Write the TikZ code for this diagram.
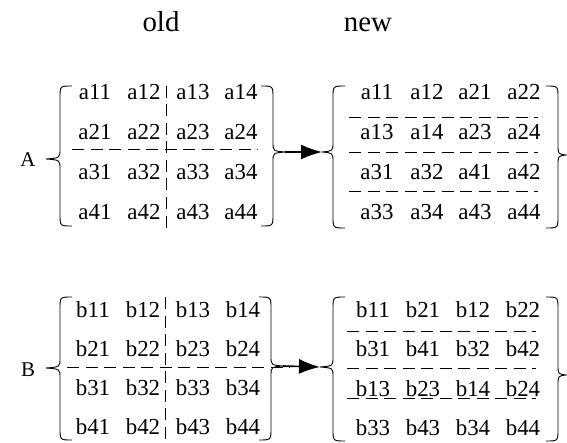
\documentclass[tikz,border=0pt]{standalone}
\usepackage{fontspec}
\setmainfont{Liberation Serif}
\usetikzlibrary{arrows.meta}

% curly delimiters: #1 x of the stem, #2/#3 tip, #4 top y, #5 bottom y
\newcommand{\leftbr}[5]{%
  \draw[brace] (#1+12,#4) .. controls (#1,#4) .. (#1,#4+12) -- (#1,#3-10)
    .. controls (#1,#3-1) .. (#2,#3) .. controls (#1,#3+1) .. (#1,#3+10)
    -- (#1,#5-12) .. controls (#1,#5) .. (#1+12,#5);}
\newcommand{\rightbr}[5]{%
  \draw[brace] (#1-12,#4) .. controls (#1,#4) .. (#1,#4+12) -- (#1,#3-10)
    .. controls (#1,#3-1) .. (#2,#3) .. controls (#1,#3+1) .. (#1,#3+10)
    -- (#1,#5-12) .. controls (#1,#5) .. (#1-12,#5);}

\tikzset{
  ent/.style={font=\fontsize{23}{23}\selectfont, anchor=base, inner sep=0pt},
  head/.style={font=\fontsize{29}{29}\selectfont, anchor=base, inner sep=0pt},
  tag/.style={font=\fontsize{21}{21}\selectfont, anchor=base, inner sep=0pt},
  brace/.style={line width=0.9bp},
  cut/.style={line width=1bp, dash pattern=on 12bp off 6.5bp},
  arr/.style={line width=1.6bp, -{Latex[length=21bp,width=15bp]}},
}

\begin{document}
\begin{tikzpicture}[x=1bp,y=-1bp]
\useasboundingbox (0,0) rectangle (567,443);

% column titles
\node[head] (old) at (161,32) {old};
\node[head] (new) at (368,32) {new};

% row labels
\node[tag] (labA) at (28,167) {A};
\node[tag] (labB) at (28,376) {B};

% ---------- matrix A, original layout ----------
\foreach \r/\y in {1/100,2/140,3/180,4/220}
  \foreach \c/\x in {1/95,2/144,3/193,4/241}
    \node[ent] (Ao\r\c) at (\x,\y) {a\r\c};
\leftbr{60}{46}{159}{86}{226}
\rightbr{273}{285}{152}{86}{226}
\coordinate (AoTip) at (285,152);
\draw[cut] (72,150) -- (258,150);
\draw[cut] (166,86) -- (166,231);

% ---------- matrix A, new layout ----------
\foreach \r/\y/\la/\lb/\lc/\ld in {1/100/11/12/21/22,2/140/13/14/23/24,
                                   3/180/31/32/41/42,4/220/33/34/43/44}{
  \node[ent] (An\r1) at (377,\y) {a\la};
  \node[ent] (An\r2) at (427,\y) {a\lb};
  \node[ent] (An\r3) at (475,\y) {a\lc};
  \node[ent] (An\r4) at (524,\y) {a\ld};
}
\leftbr{333}{322}{152}{86}{228}
\rightbr{558}{566}{155}{86}{228}
\coordinate (AnTip) at (322,152);
\foreach \y in {118,153,192}
  \draw[cut] (349,\y) -- (538,\y);

\draw[arr] (AoTip) -- (AnTip);

% ---------- matrix B, original layout ----------
\foreach \r/\y in {1/317,2/356,3/395,4/434}
  \foreach \c/\x in {1/93,2/143,3/193,4/243}
    \node[ent] (Bo\r\c) at (\x,\y) {b\r\c};
\leftbr{60}{46}{368}{297}{440}
\rightbr{271}{283}{366}{297}{440}
\coordinate (BoTip) at (283,366);
\draw[cut] (67,367) -- (290,367);
\draw[cut] (165,297) -- (165,443);

% ---------- matrix B, new layout ----------
\foreach \r/\y/\la/\lb/\lc/\ld in {1/317/11/21/12/22,2/356/31/41/32/42,
                                   3/396/13/23/14/24,4/435/33/43/34/44}{
  \node[ent] (Bn\r1) at (373,\y) {b\la};
  \node[ent] (Bn\r2) at (423,\y) {b\lb};
  \node[ent] (Bn\r3) at (473,\y) {b\lc};
  \node[ent] (Bn\r4) at (523,\y) {b\ld};
}
\leftbr{333}{320}{367}{297}{441}
\rightbr{558}{566}{375}{297}{441}
\coordinate (BnTip) at (320,367);
\foreach \y in {331,368,398}
  \draw[cut] (347,\y) -- (536,\y);

\draw[arr] (BoTip) -- (BnTip);
\end{tikzpicture}
\end{document}
